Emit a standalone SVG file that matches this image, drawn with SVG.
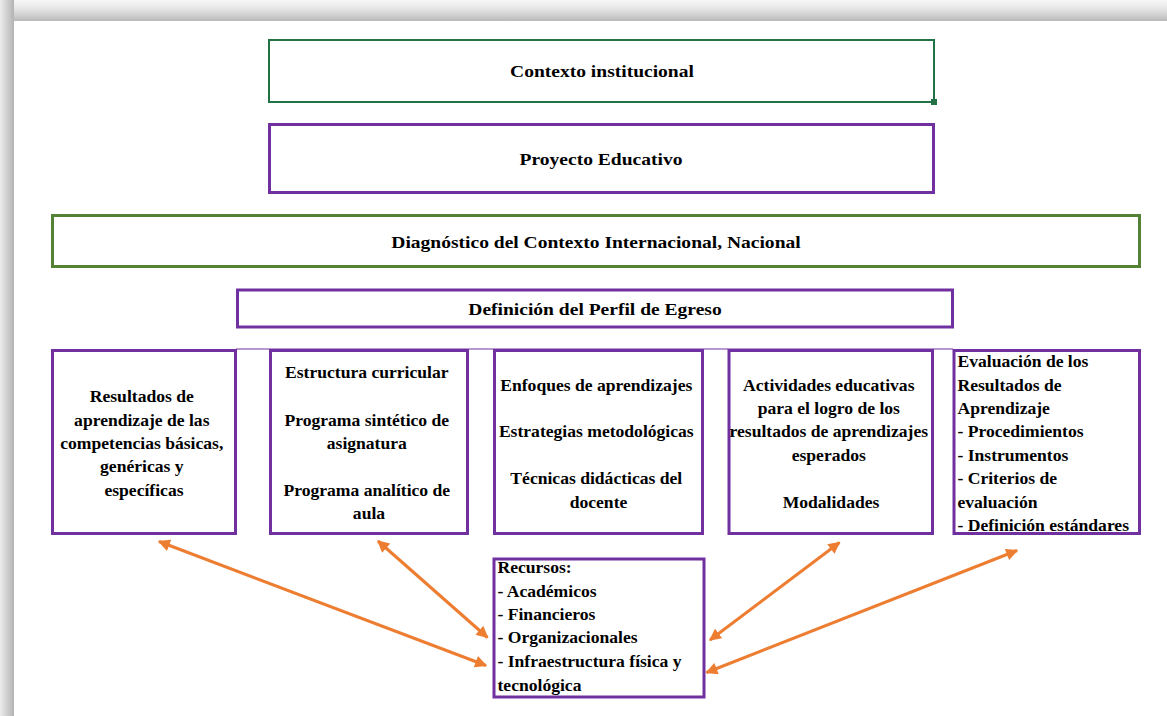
<svg xmlns="http://www.w3.org/2000/svg" width="1167" height="716" viewBox="0 0 1167 716">
<defs>
<linearGradient id="gTop" x1="0" y1="0" x2="0" y2="1">
<stop offset="0" stop-color="#f7f7f7"/>
<stop offset="0.4" stop-color="#e6e6e6"/>
<stop offset="0.7" stop-color="#d2d2d2"/>
<stop offset="1" stop-color="#b9b9b9"/>
</linearGradient>
<linearGradient id="gLeft" x1="0" y1="0" x2="1" y2="0">
<stop offset="0" stop-color="#ececec"/>
<stop offset="0.4" stop-color="#d6d6d6"/>
<stop offset="1" stop-color="#b3b3b3"/>
</linearGradient>
<marker id="ah" viewBox="0 0 10 10" refX="9" refY="5" markerWidth="4.2" markerHeight="4" orient="auto-start-reverse" markerUnits="strokeWidth">
<path d="M0,0 L10,5 L0,10 z" fill="#ED7D31"/>
</marker>
<style>
.t{font-family:"Liberation Serif","Times New Roman",serif;font-weight:bold;font-size:16px;fill:#000}
.h{font-size:17.6px}
.c{text-anchor:middle}
.pb{fill:#fff;stroke:#7030A0;stroke-width:3}
.gb{fill:#fff;stroke:#548235;stroke-width:3}
.arr{stroke:#ED7D31;stroke-width:3;fill:none;marker-start:url(#ah);marker-end:url(#ah)}
</style>
</defs>
<rect x="0" y="0" width="1167" height="716" fill="#fff"/>
<rect x="0" y="0" width="1167" height="21" fill="url(#gTop)"/>
<rect x="0" y="0" width="14" height="716" fill="url(#gLeft)"/>
<g id="contexto">
<rect x="269" y="40" width="665" height="62" fill="#fff" stroke="#217346" stroke-width="2"/>
<rect x="931" y="99" width="6" height="6" fill="#217346"/>
<g transform="translate(602 0) scale(1.11 1) translate(-602 0)"><text class="t h c" x="602" y="77">Contexto institucional</text></g>
</g>
<g id="proyecto">
<rect class="pb" x="269.5" y="124.5" width="664" height="68"/>
<g transform="translate(601 0) scale(1.11 1) translate(-601 0)"><text class="t h c" x="601" y="165">Proyecto Educativo</text></g>
</g>
<g id="diagnostico">
<rect class="gb" x="52.5" y="215.5" width="1087" height="51"/>
<g transform="translate(596 0) scale(1.11 1) translate(-596 0)"><text class="t h c" x="596" y="248">Diagnóstico del Contexto Internacional, Nacional</text></g>
</g>
<g id="perfil">
<rect class="pb" x="237.5" y="290" width="715" height="37"/>
<g transform="translate(595 0) scale(1.11 1) translate(-595 0)"><text class="t h c" x="595" y="315">Definición del Perfil de Egreso</text></g>
</g>
<line x1="236" y1="349" x2="953" y2="349" stroke="#7030A0" stroke-width="1"/>
<g id="resultados">
<rect class="pb" x="52.5" y="350.5" width="183" height="183"/>
<g transform="translate(144 0) scale(1.1 1) translate(-144 0)">
<text class="t c" x="144">
<tspan x="144" y="402">Resultados de</tspan>
<tspan x="144" y="425.5">aprendizaje de las</tspan>
<tspan x="144" y="449">competencias básicas,</tspan>
<tspan x="144" y="472.5">genéricas y</tspan>
<tspan x="144" y="496">específicas</tspan>
</text>
</g>
</g>
<g id="estructura">
<rect class="pb" x="270.5" y="350.5" width="197" height="183"/>
<g transform="translate(369 0) scale(1.1 1) translate(-369 0)">
<text class="t c" x="369">
<tspan x="369" y="378.5">Estructura curricular</tspan>
<tspan x="369" y="425.5">Programa sintético de</tspan>
<tspan x="369" y="449">asignatura</tspan>
<tspan x="369" y="496">Programa analítico de</tspan>
<tspan x="369" y="519.5">aula</tspan>
</text>
</g>
</g>
<g id="enfoques">
<rect class="pb" x="494.5" y="350.5" width="208" height="183"/>
<g transform="translate(598.5 0) scale(1.1 1) translate(-598.5 0)">
<text class="t c" x="598.5">
<tspan x="598.5" y="391">Enfoques de aprendizajes</tspan>
<tspan x="598.5" y="437.5">Estrategias metodológicas</tspan>
<tspan x="598.5" y="484.5">Técnicas didácticas del</tspan>
<tspan x="598.5" y="508">docente</tspan>
</text>
</g>
</g>
<g id="actividades">
<rect class="pb" x="729" y="350.5" width="203.5" height="183"/>
<g transform="translate(831 0) scale(1.1 1) translate(-831 0)">
<text class="t c" x="831">
<tspan x="831" y="391">Actividades educativas</tspan>
<tspan x="831" y="414">para el logro de los</tspan>
<tspan x="831" y="437.5">resultados de aprendizajes</tspan>
<tspan x="831" y="461">esperados</tspan>
<tspan x="831" y="508">Modalidades</tspan>
</text>
</g>
</g>
<g id="evaluacion">
<rect class="pb" x="954" y="350.5" width="185.5" height="183"/>
<g transform="translate(957.5 0) scale(1.1 1) translate(-957.5 0)">
<text class="t">
<tspan x="957.5" y="367.5">Evaluación de los</tspan>
<tspan x="957.5" y="391">Resultados de</tspan>
<tspan x="957.5" y="414">Aprendizaje</tspan>
<tspan x="957.5" y="437.5">- Procedimientos</tspan>
<tspan x="957.5" y="461">- Instrumentos</tspan>
<tspan x="957.5" y="484.5">- Criterios de</tspan>
<tspan x="957.5" y="508">evaluación</tspan>
<tspan x="957.5" y="531.5">- Definición estándares</tspan>
</text>
</g>
</g>
<g id="recursos">
<rect class="pb" x="494" y="559" width="210" height="138"/>
<g transform="translate(497.5 0) scale(1.1 1) translate(-497.5 0)">
<text class="t">
<tspan x="497.5" y="573.5">Recursos:</tspan>
<tspan x="497.5" y="597">- Académicos</tspan>
<tspan x="497.5" y="620">- Financieros</tspan>
<tspan x="497.5" y="643.5">- Organizacionales</tspan>
<tspan x="497.5" y="667">- Infraestructura física y</tspan>
<tspan x="497.5" y="691">tecnológica</tspan>
</text>
</g>
</g>
<g id="connectors">
<line class="arr" x1="159" y1="541.5" x2="486" y2="665.5"/>
<line class="arr" x1="378" y1="541" x2="487.5" y2="637.5"/>
<line class="arr" x1="839.5" y1="542.5" x2="710" y2="640"/>
<line class="arr" x1="1017" y1="550.5" x2="706.5" y2="672.5"/>
</g>
</svg>
